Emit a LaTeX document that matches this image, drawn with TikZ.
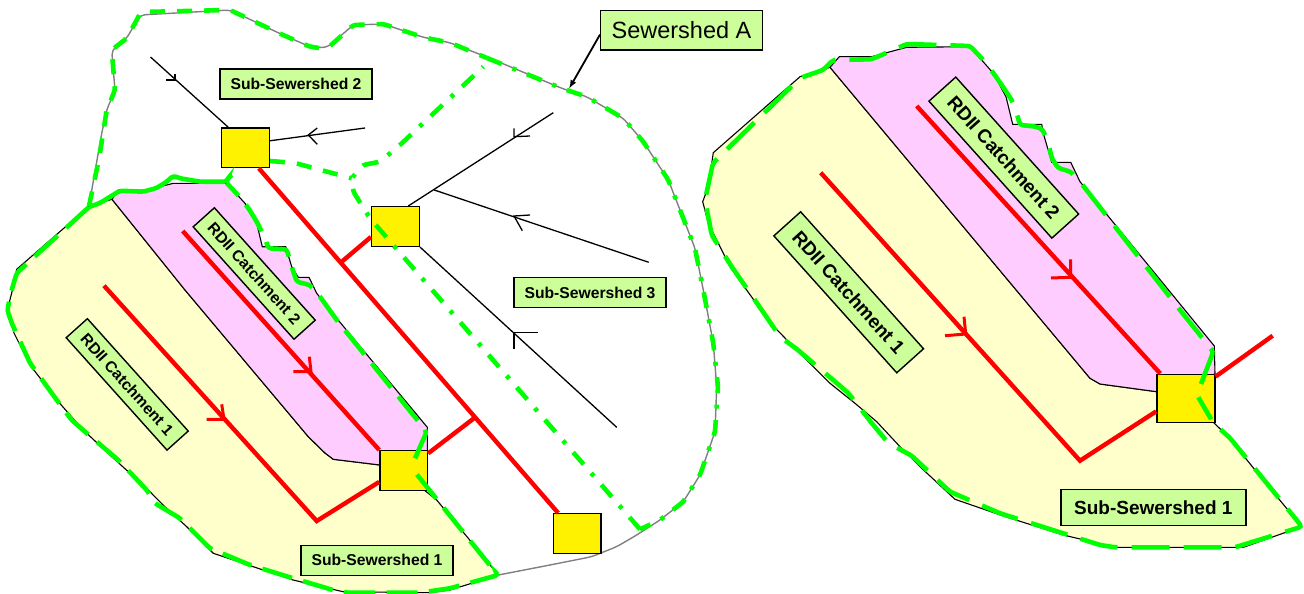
\documentclass[tikz,border=0pt]{standalone}
\usepackage{fontspec}
\setmainfont{Liberation Sans}
\usetikzlibrary{arrows,positioning,shapes}

\begin{document}
\begin{tikzpicture}[x=1pt,y=-1pt,
            plain/.style={line width=1.3pt,black},
            outline/.style={line width=1.4pt,draw={rgb,255:red,128;green,128;blue,128},rounded corners=5pt},
            area/.style={line width=1.1pt,draw=black},
            pipe/.style={line width=4.4pt,red},
            flow/.style={pipe,line width=3pt},
            mh/.style={draw,rectangle,fill=yellow,line width=1.4pt,inner sep=0pt},
            smallmh/.style={mh,minimum width=47.6pt,minimum height=39.7pt},
            bigmh/.style={mh,minimum width=58pt,minimum height=48pt},
            lab/.style={draw,rectangle,fill=labgreen,line width=1.4pt,inner sep=0pt,align=center,font=\bfseries},
            smalllab/.style={lab,minimum width=152pt,minimum height=30pt,font=\bfseries\fontsize{15.7}{18}\selectfont},
            biglab/.style={lab,minimum width=185pt,minimum height=36pt,font=\bfseries\fontsize{19}{22}\selectfont},
            bound/.style={line width=4.6pt,draw=lime,rounded corners=3pt,dash pattern=on 15pt off 12pt},
            longbound/.style={bound,dash pattern=on 31pt off 11.5pt},
            biglongbound/.style={bound,dash pattern=on 38pt off 14pt},
            dotbound/.style={bound,dash pattern=on 16pt off 11.5pt on 4pt off 11.5pt}
          ]
          \definecolor{labgreen}{RGB}{204,255,153}
          \definecolor{lime}{RGB}{0,255,0}
          \definecolor{catchone}{RGB}{255,255,204}
          \definecolor{catchtwo}{RGB}{255,204,255}
          \useasboundingbox (0,0) rectangle (1304,594);

          %sewershed outline
          \draw[outline] (89,206) -- (101.7,133.3) -- (106.7,110) -- (115,90) -- (113,66.7) -- (111.7,50) -- (126.7,38.3) -- (140,15)
            -- (230,10) -- (283,35) -- (310,46.7) -- (326.7,47.7) -- (353.3,25) -- (383.3,24) -- (423.3,37.3) -- (450,42.7)
            -- (490,58.3) -- (561.7,88.3) -- (586.7,96.7) -- (623.3,118.3) -- (643.3,141.7) -- (668.3,180) -- (695,248.3)
            -- (703.3,290) -- (713.3,343.3) -- (716.7,386.7) -- (715,431.7) -- (700,475) -- (683.3,501.7) -- (660,520)
            -- (636.7,535) -- (616.7,546.7) -- (591.7,556.7) -- (550,565) -- (498.3,575);

          %left catchments
          \filldraw[area,fill=catchone] (112,199.3) -- (89.3,206) -- (16.7,269.3) -- (11.7,293) -- (7.3,310) -- (14,333) -- (30,365)
            -- (58.3,401.7) -- (83.3,430) -- (111.7,456.7) -- (128.3,471.7) -- (148.3,490) -- (163,505) -- (186.7,526.7)
            -- (213.3,553.3) -- (293,580) -- (343,591.7) -- (430,592.7) -- (450,590) -- (498.3,575) -- (468.3,538.3) -- (436.7,500)
            -- (425,490.7) -- (380,465) -- (333.3,459.3) -- (325,453) -- (308.3,436.7) -- (185,290) -- cycle;
          \filldraw[area,fill=catchtwo] (112,199.3) -- (118.3,190) -- (140,191.7) -- (173.3,183.3) -- (226.7,183.3) -- (245,203.3)
            -- (256.7,223.3) -- (262.3,246.7) -- (285.7,246.7) -- (291.7,266.7) -- (298.3,277.3) -- (309,277.3) -- (316.7,293.3)
            -- (336.7,318.3) -- (427.3,427.3) -- (427.3,451) -- (380,465) -- (333.3,459.3) -- (325,453) -- (308.3,436.7) -- (185,290) -- cycle;

          %right catchments
          \filldraw[area,fill=catchone] (830,67.3) -- (800,76.7) -- (713.3,152.7) -- (708.3,186.7) -- (702.7,201.7) -- (708.3,223.3)
            -- (730,266.7) -- (770,322.7) -- (796.7,350) -- (830,383.3) -- (855,403.3) -- (876.7,421.7) -- (900,446.7) -- (920,466.7)
            -- (955,499.3) -- (1003.3,516) -- (1063.3,535) -- (1115,547.3) -- (1243.3,547.3) -- (1301.7,526.7) -- (1255,470)
            -- (1228.3,436.7) -- (1213.3,422.3) -- (1156.7,391.7) -- (1100,384) -- (1090,378.3) -- cycle;
          \filldraw[area,fill=catchtwo] (830,67.3) -- (839.3,56.7) -- (871.7,56.7) -- (906.7,47.3) -- (970,46.7) -- (993.3,73.3)
            -- (1006,96.7) -- (1012.7,124.3) -- (1041.7,124.3) -- (1043.3,133.3) -- (1051.7,162.3) -- (1070.7,162.3) -- (1080,181.7)
            -- (1214.3,346) -- (1215,374) -- (1156.7,391.7) -- (1100,384) -- (1090,378.3) -- cycle;

          %manholes
          \node[smallmh] (mhA) at (245.5,147.8) {};
          \node[smallmh] (mhB) at (395.5,226.5) {};
          \node[smallmh] (mhC) at (403.7,470.5) {};
          \node[smallmh] (mhD) at (577.3,533.5) {};
          \node[bigmh] (mhE) at (1185.8,398.2) {};

          %labels
          \node[smalllab] (sub2) at (296,84) {Sub-Sewershed 2};
          \node[smalllab] (sub3) at (590,292.5) {Sub-Sewershed 3};
          \node[smalllab] (sub1) at (377,560.3) {Sub-Sewershed 1};
          \node[biglab] (bigsub1) at (1153.3,507.5) {Sub-Sewershed 1};
          \node[lab,minimum width=161.6pt,minimum height=39.5pt,font=\fontsize{23.5}{26}\selectfont] (sewA) at (681.5,30.3) {Sewershed A};
          \node[smalllab,minimum width=151pt,minimum height=28.5pt,rotate=-48.1] (rdii1) at (127.2,384.4) {RDII Catchment 1};
          \node[smalllab,minimum width=151pt,minimum height=28.5pt,rotate=-48.1] (rdii2) at (254.2,273.5) {RDII Catchment 2};
          \node[biglab,minimum width=184pt,rotate=-48.1] (bigrdii1) at (848.7,292.3) {RDII Catchment 1};
          \node[biglab,minimum width=184pt,rotate=-48.1] (bigrdii2) at (1003.8,157.6) {RDII Catchment 2};

          %free ends
          \coordinate (endA1) at (150.5,57);
          \coordinate (endA2) at (365,128);
          \coordinate (endB1) at (553.3,112.7);
          \coordinate (forkB) at (434.3,190);
          \coordinate (endB2) at (648.7,262.3);
          \coordinate (endB3) at (616.7,427.3);
          \coordinate (tipA) at (569.3,88.3);
          \coordinate (joinB) at (340.7,262.6);
          \coordinate (joinC) at (475,417.5);
          \coordinate (start2) at (182.7,231);
          \coordinate (start1) at (104,285.7);
          \coordinate (bend1) at (316.7,521);
          \coordinate (bigstart2) at (916.7,106);
          \coordinate (bigstart1) at (820.7,172.7);
          \coordinate (bigbend1) at (1080,460.7);
          \coordinate (bigout) at (1272.7,335.7);

          %sewers
          \draw[plain] (endA1) -- (mhA.130.3);
          \draw[plain] (endA2) -- (mhA.16);
          \draw[plain] (endB1) -- (mhB.58);
          \draw[plain] (endB2) -- (forkB);
          \draw[plain] (endB3) -- (mhB.south east);
          \draw[pipe] (mhA.-57.4) -- (mhD.133.2);
          \draw[pipe] (mhB.203.2) -- (joinB);
          \draw[pipe] (mhC.35.6) -- (joinC);
          \draw[pipe] (start2) -- (mhC.north west);
          \draw[pipe] (start1) -- (bend1) -- (mhC.205.3);
          \draw[pipe] (bigstart2) -- (mhE.136.8);
          \draw[pipe] (bigstart1) -- (bigbend1) -- (mhE.204.9);
          \draw[pipe] (mhE.36.4) -- (bigout);
          \draw[plain,->,>=latex,line width=1.8pt] (sewA.183.5) -- (tipA);

          %flow marks
          \draw[plain] (175,74) -- (175,80) -- (166,80);
          \draw[plain] (317.3,128) -- (308.3,135) -- (317.3,144.3);
          \draw[plain] (514,128.3) -- (514,136.7) -- (530,136);
          \draw[plain] (530,215) -- (514,216) -- (522.3,230.7);
          \draw[plain] (538,332.7) -- (514,332.7) -- (514,349.3);
          \draw[flow] (309.3,356.7) -- (311,371.7) -- (293.3,371.7);
          \draw[flow] (221.7,404.3) -- (224,419.3) -- (206.7,419.3);
          \draw[flow] (1070.7,259.3) -- (1070.7,277.3) -- (1051,278);
          \draw[flow] (964,316.7) -- (965.7,334) -- (945,335.7);

          %boundaries
          \draw[bound] (89,206) -- (99,159) -- (106.7,110) -- (115,90) -- (111.7,50) -- (126.7,38.3) -- (141,12) -- (230,10) -- (283,35)
            -- (310,46.7) -- (326.7,49) -- (353.3,25) -- (383.3,24) -- (423.3,37.3) -- (450,42.7) -- (487,58);
          \draw[dotbound] (487,58) -- (561.7,88.3) -- (586.7,96.7) -- (623.3,118.3) -- (643.3,141.7) -- (668.3,180) -- (695,248.3)
            -- (703.3,290) -- (713.3,343.3) -- (718,386.7) -- (715,431.7) -- (700,475) -- (683.3,501.7) -- (660,520) -- (640,529.3);
          \draw[dotbound] (640,529.3) -- (370,218.3) -- (353.3,191.7) -- (351.7,178.3) -- (363,165) -- (380,161.7) -- (400,145)
            -- (430,116.7) -- (483.3,66.7);
          \draw[bound] (270,161) -- (295,163) -- (351.7,178.3);
          \draw[longbound] (415,458.3) -- (426.7,431.7) -- (336.7,320) -- (320,296.7) -- (310,285) -- (296.7,281.7) -- (291.7,266.7)
            -- (286.7,249.3) -- (268.3,248.3) -- (265,238) -- (256.7,221.7) -- (248.3,208) -- (238,195) -- (226.7,183);
          \draw[bound,solid] (232,175) -- (228,178) -- (226.7,181.7) -- (200,181.7) -- (180,178.3) -- (173.3,175.7) -- (166.7,181.7) -- (156.7,188)
            -- (143,191.7) -- (120,190.7) -- (100,203) -- (89,207);
          \draw[longbound] (89,207) -- (16.7,273) -- (11.7,290) -- (7.3,310) -- (11.7,323) -- (30,363) -- (56.7,400) -- (71.7,420) -- (85,431.7)
            -- (118.3,460) -- (146.7,490) -- (155,503.3) -- (180,518.3) -- (210,548.3) -- (250,565) -- (293.3,578.3) -- (333,590)
            -- (346.7,592.7) -- (420,592.7) -- (450,588.3) -- (498.3,575) -- (495,571.7) -- (413.3,470);
          \draw[biglongbound] (1201,384) -- (1213.3,351.7) -- (1180,310) -- (1080,181.7) -- (1070.7,171.7) -- (1058,168) -- (1051.7,158)
            -- (1049,146) -- (1043,130) -- (1036.7,126.7) -- (1020,125) -- (1016.7,113.3) -- (1011.7,100) -- (1001.7,85) -- (993.3,73)
            -- (983.3,60) -- (970,46) -- (906.7,44) -- (871.7,59.3) -- (833.3,60) -- (823,70) -- (800,78) -- (713,163) -- (705,200)
            -- (711.7,235) -- (731.7,266.7) -- (761.7,310) -- (780,336.7) -- (796.7,349) -- (836.7,383) -- (848.3,393) -- (871.7,423)
            -- (888.3,443) -- (911.7,455.7) -- (950,491.7) -- (1000,513.3) -- (1100,545) -- (1115,547.3) -- (1235,547.3)
            -- (1301.7,526.7) -- (1298,521.7) -- (1230,438) -- (1213.3,423) -- (1198.3,397.3);
        \end{tikzpicture}
\end{document}
